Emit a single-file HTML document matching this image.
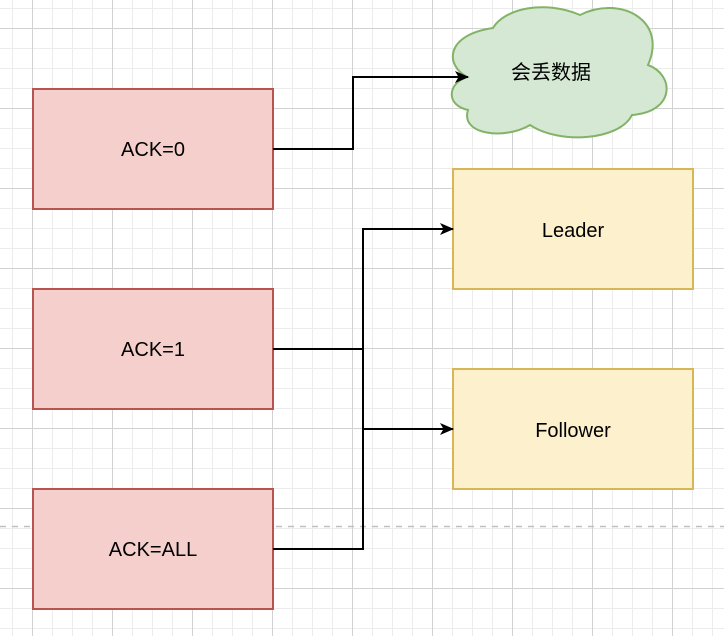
<!DOCTYPE html>
<html><head><style>
html,body{margin:0;padding:0;background:#fff;}
svg{display:block;}
text{font-family:"Liberation Sans","Noto Sans CJK SC",sans-serif;font-size:20px;fill:#000;}
</style></head><body>
<svg width="724" height="636" viewBox="0 0 724 636" xmlns="http://www.w3.org/2000/svg">
<defs>
<pattern id="minor" x="12" y="8" width="20" height="20" patternUnits="userSpaceOnUse">
<path d="M0 0.5H20M0.5 0V20" stroke="#ececec" stroke-width="1" fill="none"/>
</pattern>
<pattern id="major" x="32" y="28" width="80" height="80" patternUnits="userSpaceOnUse">
<path d="M0 0.5H80M0.5 0V80" stroke="#d2d2d2" stroke-width="1" fill="none"/>
</pattern>
<marker id="ar" markerWidth="14" markerHeight="12" refX="13" refY="6" orient="auto" markerUnits="userSpaceOnUse">
<path d="M0 0L14 6L0 12L3.5 6Z" fill="#000"/>
</marker>
</defs>
<rect width="724" height="636" fill="url(#minor)"/>
<rect width="724" height="636" fill="url(#major)"/>
<line x1="0" y1="526.5" x2="724" y2="526.5" stroke="#c0c0c0" stroke-width="1.5" stroke-dasharray="6,6"/>

<g stroke="#b85450" stroke-width="2" fill="#f4cfcc">
<rect x="33" y="89" width="240" height="120"/>
<rect x="33" y="289" width="240" height="120"/>
<rect x="33" y="489" width="240" height="120"/>
</g>
<g stroke="#d6b656" stroke-width="2" fill="#fdf0cd">
<rect x="453" y="169" width="240" height="120"/>
<rect x="453" y="369" width="240" height="120"/>
</g>
<path d="M467 77 C445 65 445 35 493 28 C505 8 545 0 580 15 C620 -5 668 20 648 65 C675 75 675 112 632 115 C620 140 560 145 530 125 C505 140 460 135 468 110 C445 105 448 83 467 77 Z" fill="#d5e8d4" stroke="#82b366" stroke-width="2"/>

<text x="153" y="156" text-anchor="middle">ACK=0</text>
<text x="153" y="356" text-anchor="middle">ACK=1</text>
<text x="153" y="556" text-anchor="middle">ACK=ALL</text>
<text x="573" y="237" text-anchor="middle">Leader</text>
<text x="573" y="437" text-anchor="middle">Follower</text>
<text x="551" y="79" text-anchor="middle">会丢数据</text>

<g stroke="#000" stroke-width="2" fill="none">
<path d="M273 149H353V77H468" marker-end="url(#ar)"/>
<path d="M273 349H363"/>
<path d="M273 549H363V229H453" marker-end="url(#ar)"/>
<path d="M363 429H453" marker-end="url(#ar)"/>
</g>
</svg>
</body></html>
